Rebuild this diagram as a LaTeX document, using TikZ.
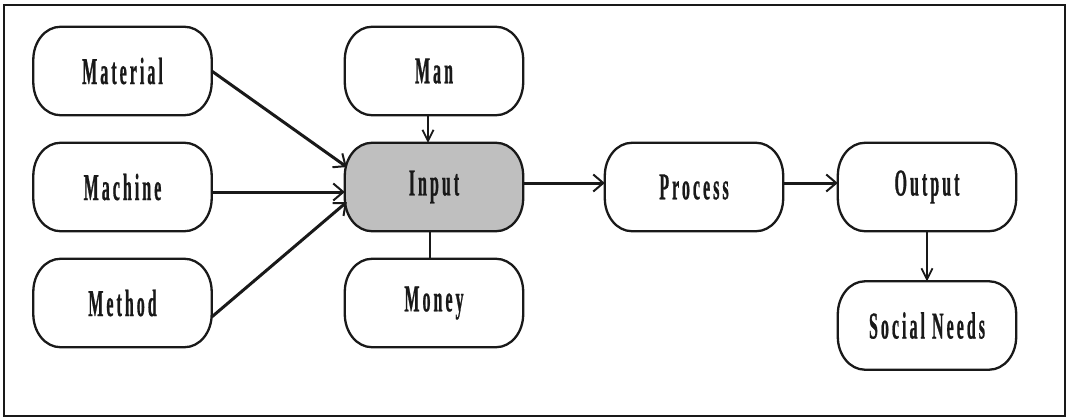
\documentclass[tikz,border=0pt]{standalone}
\usepackage{fontspec}
\newfontfamily\labfont{Liberation Serif}[FakeStretch=0.42,LetterSpace=8,FakeBold=0.6]
\usetikzlibrary{arrows.meta}
\pgfdeclarelayer{background}
\pgfsetlayers{background,main}
\newcommand\ovalbox[2][]{%
  \begin{pgfonlayer}{background}
  \draw[boxline,#1] ([xshift=27pt]#2.north west) -- ([xshift=-27pt]#2.north east)
    arc[start angle=90, end angle=0, x radius=27pt, y radius=33pt]
    -- ([yshift=33pt]#2.south east)
    arc[start angle=0, end angle=-90, x radius=27pt, y radius=33pt]
    -- ([xshift=27pt]#2.south west)
    arc[start angle=-90, end angle=-180, x radius=27pt, y radius=33pt]
    -- ([yshift=-33pt]#2.north west)
    arc[start angle=180, end angle=90, x radius=27pt, y radius=33pt] -- cycle;
  \end{pgfonlayer}}
\begin{document}
\begin{tikzpicture}[x=1pt,y=-1pt,
  boxline/.style={draw=black!90, line width=2.3pt},
  box/.style={minimum width=178pt, minimum height=88pt, inner sep=0pt,
    font=\labfont\bfseries\fontsize{38}{40}\selectfont, text=black!90},
  arr/.style={draw=black!90, line width=3pt, -{Straight Barb[length=10pt,width=17pt,line width=2pt]}},
  thinarr/.style={draw=black!90, line width=2pt, -{Straight Barb[length=11pt,width=11pt,line width=1.8pt]}},
  link/.style={draw=black!90, line width=2pt}]
\useasboundingbox (0,0) rectangle (1071,418);
\draw[line width=2.4pt, black!90] (4,5) rectangle (1065,416);
\node[box] (mat)   at (122.5,71)  {Material};
\node[box] (mach)  at (122.5,187) {Machine};
\node[box] (meth)  at (122.5,303) {Method};
\node[box] (man)   at (434,71)    {Man};
\node[box] (input) at (434,187)   {Input};
\node[box] (money) at (434,303)   {Money};
\node[box] (proc)  at (694,187)   {Process};
\node[box] (out)   at (927,187)   {Output};
\node[box] (soc)   at (927,325.5) {Social Needs};
\ovalbox{mat}\ovalbox{mach}\ovalbox{meth}\ovalbox{man}
\ovalbox[fill=black!25]{input}\ovalbox{money}\ovalbox{proc}\ovalbox{out}\ovalbox{soc}
\draw[arr] (mat.east) -- ([shift={(2pt,20pt)}]input.west);
\draw[arr] ([yshift=-5pt]mach.east) -- ([yshift=-5pt]input.west);
\draw[arr] ([yshift=-14pt]meth.east) -- ([shift={(2pt,-15pt)}]input.west);
\draw[thinarr] ([xshift=-6pt]man.south) -- ([xshift=-6pt]input.north);
\draw[link] ([xshift=-4pt]input.south) -- ([xshift=-4pt]money.north);
\draw[arr] ([yshift=4pt]input.east) -- ([yshift=4pt]proc.west);
\draw[arr] ([yshift=4pt]proc.east) -- ([yshift=4pt]out.west);
\draw[thinarr] (out.south) -- (soc.north);
\end{tikzpicture}
\end{document}
